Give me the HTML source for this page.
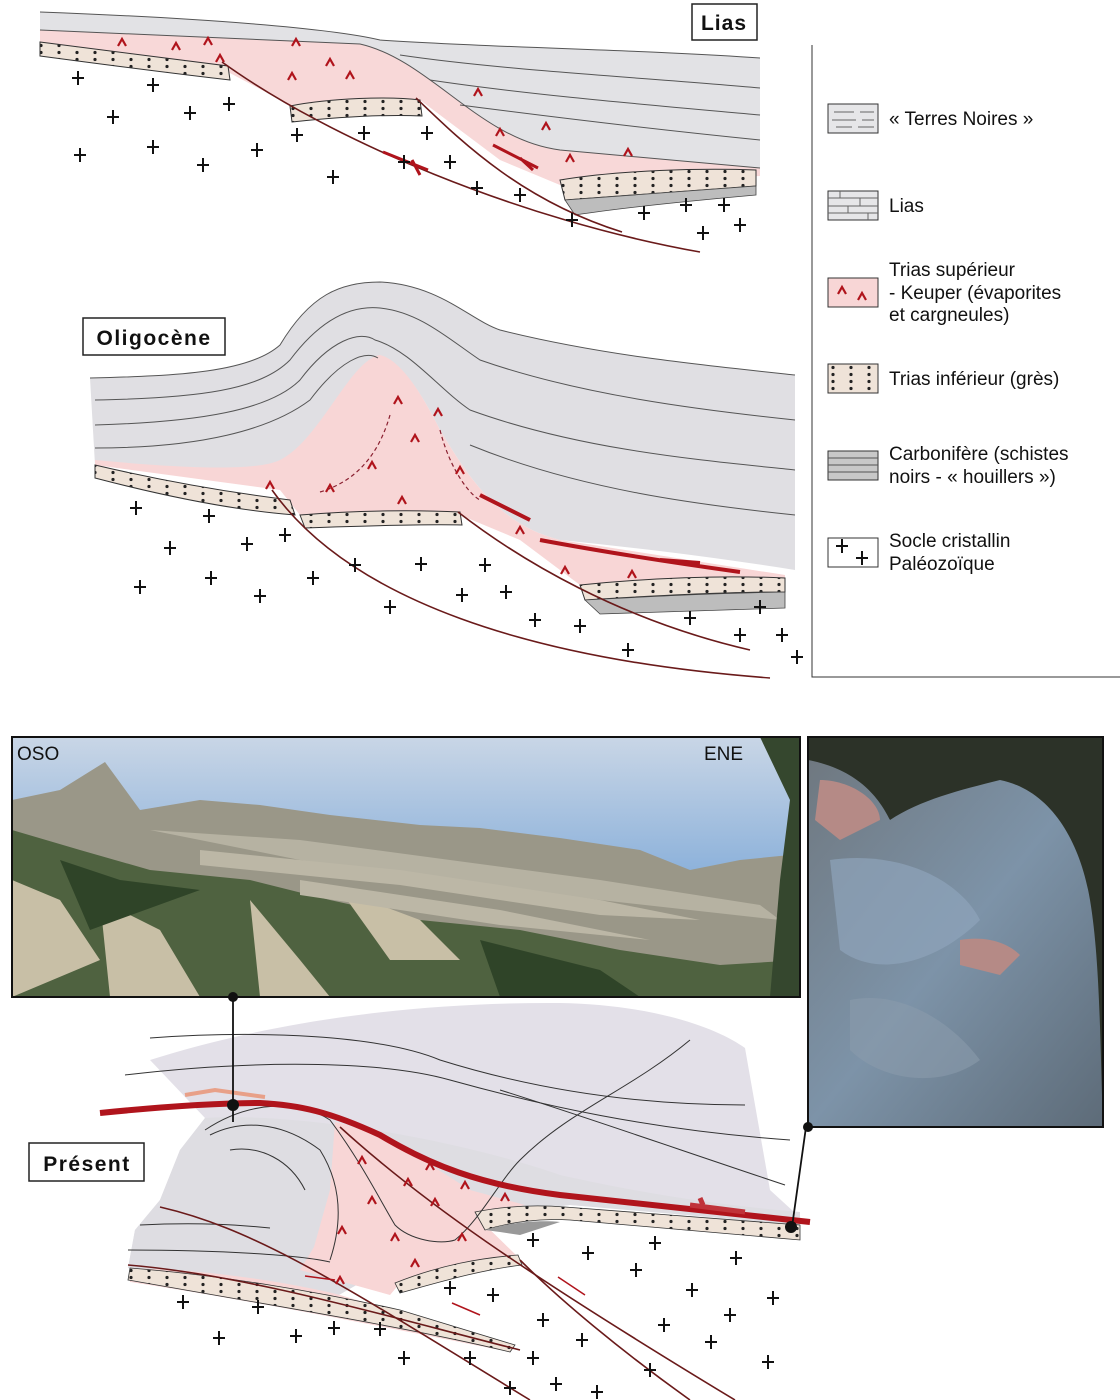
<!DOCTYPE html>
<html><head><meta charset="utf-8"><style>
html,body{margin:0;padding:0;background:#fff}
body{width:1120px;height:1400px;position:relative;overflow:hidden;font-family:"Liberation Sans",sans-serif}
</style></head><body>
<svg width="1120" height="1400" viewBox="0 0 1120 1400" xmlns="http://www.w3.org/2000/svg" style="position:absolute;left:0;top:0">
<defs>
<linearGradient id="sky" x1="0" y1="0" x2="0" y2="1"><stop offset="0" stop-color="#c9d6e6"/><stop offset="0.5" stop-color="#8fb3db"/><stop offset="1" stop-color="#5e8fc9"/></linearGradient>
<linearGradient id="rock" x1="0" y1="0" x2="1" y2="1"><stop offset="0" stop-color="#6f7880"/><stop offset="0.5" stop-color="#7d93a8"/><stop offset="1" stop-color="#5d6b78"/></linearGradient>
<pattern id="dots" width="18" height="7" patternUnits="userSpaceOnUse"><rect width="18" height="7" fill="#efe3d8"/><circle cx="5" cy="3.5" r="1.6" fill="#222"/></pattern>
<g id="cr"><path d="M-6 0h12M0-7v14" stroke="#111" stroke-width="2"/></g>
<g id="ev"><path d="M-4 4L0-3L4 4" fill="none" stroke="#b0141c" stroke-width="2.2"/></g>
</defs>

<!-- ========== LIAS ========== -->
<path d="M40,12 C200,18 330,28 380,40 C500,48 650,50 760,58 L760,170 C680,165 600,160 560,150 C480,140 430,60 360,44 L40,30 Z" fill="#e2e2e5"/>
<path d="M40,30 L360,44 C430,60 480,140 560,150 L760,168 L760,176 L560,185 L500,160 L420,100 L290,105 L228,72 L40,56 Z" fill="#f8d8d8"/>
<path d="M40,42 C120,52 180,60 228,66 L230,80 C160,72 100,64 40,56 Z" fill="url(#dots)" stroke="#333" stroke-width="1"/>
<path d="M290,106 C330,98 390,96 420,100 L422,116 C380,114 330,118 292,122 Z" fill="url(#dots)" stroke="#333" stroke-width="1"/>
<path d="M560,180 C620,170 700,168 756,170 L756,186 C700,190 620,196 565,200 Z" fill="url(#dots)" stroke="#333" stroke-width="1"/>
<path d="M565,200 C640,194 700,190 756,186 L756,195 C700,200 620,208 575,215 Z" fill="#bdbdbd" stroke="#444" stroke-width="0.8"/>
<g stroke="#555" stroke-width="1" fill="none">
<path d="M40,12 C200,18 330,28 380,40 C500,48 650,50 760,58"/>
<path d="M400,55 C500,70 650,78 760,88"/><path d="M430,80 C530,95 650,105 760,115"/><path d="M460,105 C560,118 660,130 760,140"/><path d="M40,30 L360,44 C430,60 480,140 560,150 L760,168"/>
</g>
<g stroke="#6a1a1a" stroke-width="1.6" fill="none">
<path d="M222,62 C330,140 520,220 700,252"/>
<path d="M416,98 C460,140 520,200 622,232"/>
</g>
<path d="M383,152 L428,170 M412,160 L420,175 M493,145 L538,168 M520,158 L533,170" stroke="#b0141c" stroke-width="3"/>
<g>
<use href="#ev" x="122" y="42"/><use href="#ev" x="176" y="46"/><use href="#ev" x="208" y="41"/><use href="#ev" x="296" y="42"/><use href="#ev" x="330" y="62"/><use href="#ev" x="350" y="75"/><use href="#ev" x="292" y="76"/><use href="#ev" x="478" y="92"/><use href="#ev" x="500" y="132"/><use href="#ev" x="546" y="126"/><use href="#ev" x="570" y="158"/><use href="#ev" x="628" y="152"/><use href="#ev" x="220" y="58"/>
</g>
<g>
<use href="#cr" x="78" y="78"/><use href="#cr" x="153" y="85"/><use href="#cr" x="113" y="117"/><use href="#cr" x="190" y="113"/><use href="#cr" x="229" y="104"/><use href="#cr" x="80" y="155"/><use href="#cr" x="153" y="147"/><use href="#cr" x="203" y="165"/><use href="#cr" x="257" y="150"/><use href="#cr" x="297" y="135"/><use href="#cr" x="364" y="133"/><use href="#cr" x="427" y="133"/><use href="#cr" x="333" y="177"/><use href="#cr" x="404" y="162"/><use href="#cr" x="450" y="162"/><use href="#cr" x="477" y="188"/><use href="#cr" x="520" y="195"/><use href="#cr" x="572" y="220"/><use href="#cr" x="644" y="213"/><use href="#cr" x="686" y="205"/><use href="#cr" x="724" y="205"/><use href="#cr" x="740" y="225"/><use href="#cr" x="703" y="233"/>
</g>
<rect x="692" y="4" width="65" height="36" fill="#fff" stroke="#222" stroke-width="1.5"/>
<text x="724" y="30" text-anchor="middle" font-size="21" font-weight="bold" fill="#111" letter-spacing="1">Lias</text>

<!-- ========== OLIGOCENE ========== -->
<path d="M90,378 C180,376 250,372 280,345 C310,295 340,282 380,282 C440,285 470,320 500,330 C600,355 700,365 795,375 L795,570 C720,558 640,548 560,540 C500,525 470,480 440,430 C420,390 400,360 380,360 C360,360 330,420 300,470 L95,465 Z" fill="#e0dfe3"/>
<path d="M380,355 C400,360 420,390 440,430 C470,480 500,525 560,540 C640,552 720,565 785,575 L785,585 L580,585 L520,540 L460,515 L300,515 L280,490 L95,465 L95,460 C200,470 260,470 280,460 C320,440 350,360 380,355 Z" fill="#f8d6d6"/>
<path d="M95,465 C180,485 250,495 290,500 L295,515 C230,510 160,495 95,478 Z" fill="url(#dots)" stroke="#333" stroke-width="1"/>
<path d="M300,515 C360,510 420,510 460,512 L462,525 C420,524 360,526 305,528 Z" fill="url(#dots)" stroke="#333" stroke-width="1"/>
<path d="M580,585 C650,578 720,575 785,578 L785,592 C720,592 650,596 585,600 Z" fill="url(#dots)" stroke="#333" stroke-width="1"/>
<path d="M585,600 C660,596 720,593 785,592 L785,608 C720,610 660,612 600,614 Z" fill="#bdbdbd" stroke="#444" stroke-width="0.8"/>
<g stroke="#555" stroke-width="1" fill="none">
<path d="M90,378 C180,376 250,372 280,345 C310,295 340,282 380,282 C440,285 470,320 500,330 C600,355 700,365 795,375"/>
<path d="M95,400 C200,398 260,390 290,360 C320,320 350,305 380,308 C420,312 450,340 480,360 C580,395 700,410 795,420"/>
<path d="M95,425 C200,422 270,410 300,380 C330,340 360,330 375,340 C410,350 440,390 470,410 C580,450 700,460 795,470"/>
<path d="M95,448 C200,448 270,430 310,400 C340,360 365,350 378,358"/>
<path d="M470,445 C580,490 700,505 795,515"/>
</g>
<g stroke="#6a1a1a" stroke-width="1.6" fill="none">
<path d="M272,490 C350,600 530,660 770,678"/>
<path d="M458,512 C520,560 620,620 750,650"/>
</g>
<path d="M480,495 L530,520 M540,540 C620,555 690,565 740,572 M660,560 L700,563" stroke="#b0141c" stroke-width="4" fill="none"/>
<path d="M320,492 C360,480 380,450 390,415 M440,430 C450,470 470,495 480,500" stroke="#8a2030" stroke-width="1.2" stroke-dasharray="4 3" fill="none"/>
<g>
<use href="#ev" x="398" y="400"/><use href="#ev" x="415" y="438"/><use href="#ev" x="438" y="412"/><use href="#ev" x="372" y="465"/><use href="#ev" x="330" y="488"/><use href="#ev" x="402" y="500"/><use href="#ev" x="460" y="470"/><use href="#ev" x="520" y="530"/><use href="#ev" x="565" y="570"/><use href="#ev" x="632" y="574"/><use href="#ev" x="270" y="485"/>
</g>
<g>
<use href="#cr" x="136" y="508"/><use href="#cr" x="209" y="516"/><use href="#cr" x="170" y="548"/><use href="#cr" x="247" y="544"/><use href="#cr" x="285" y="535"/><use href="#cr" x="140" y="587"/><use href="#cr" x="211" y="578"/><use href="#cr" x="260" y="596"/><use href="#cr" x="313" y="578"/><use href="#cr" x="355" y="565"/><use href="#cr" x="421" y="564"/><use href="#cr" x="485" y="565"/><use href="#cr" x="390" y="607"/><use href="#cr" x="462" y="595"/><use href="#cr" x="506" y="592"/><use href="#cr" x="535" y="620"/><use href="#cr" x="580" y="626"/><use href="#cr" x="628" y="650"/><use href="#cr" x="690" y="618"/><use href="#cr" x="740" y="635"/><use href="#cr" x="760" y="607"/><use href="#cr" x="782" y="635"/><use href="#cr" x="797" y="657"/>
</g>
<rect x="83" y="318" width="142" height="37" fill="#fff" stroke="#222" stroke-width="1.5"/>
<text x="154" y="345" text-anchor="middle" font-size="21" font-weight="bold" fill="#111" letter-spacing="1.5">Oligocène</text>

<!-- ========== LEGEND ========== -->
<path d="M812,45 V677 H1120" stroke="#333" stroke-width="1" fill="none"/>
<g stroke="#333" stroke-width="1">
<rect x="828" y="104" width="50" height="29" fill="#e6e6e8"/>
<path d="M834,112h20M860,112h14M832,120h24M862,120h12M836,127h16M858,127h16" stroke="#666"/>
<rect x="828" y="191" width="50" height="29" fill="#e6e6e8"/>
<path d="M828,198h50M828,206h50M828,213h50M840,191v7M860,198v8M848,206v7M868,213v7" stroke="#666"/>
<rect x="828" y="278" width="50" height="29" fill="#f8d6d6"/>
<rect x="828" y="364" width="50" height="29" fill="url(#dots)"/>
<rect x="828" y="451" width="50" height="29" fill="#c8c8c8"/>
<path d="M828,458h50M828,465h50M828,472h50" stroke="#555"/>
<rect x="828" y="538" width="50" height="29" fill="#fff"/>
</g>
<use href="#ev" x="842" y="290"/><use href="#ev" x="862" y="296"/>
<use href="#cr" x="842" y="546"/><use href="#cr" x="862" y="558"/>
<g font-size="19" fill="#111">
<text x="889" y="125">« Terres Noires »</text>
<text x="889" y="212">Lias</text>
<text x="889" y="276">Trias supérieur</text>
<text x="889" y="299">- Keuper (évaporites</text>
<text x="889" y="321">et cargneules)</text>
<text x="889" y="385">Trias inférieur (grès)</text>
<text x="889" y="460">Carbonifère (schistes</text>
<text x="889" y="483">noirs - « houillers »)</text>
<text x="889" y="547">Socle cristallin</text>
<text x="889" y="570">Paléozoïque</text>
</g>

<!-- ========== PHOTOS ========== -->
<rect x="12" y="737" width="788" height="260" fill="url(#sky)"/>
<path d="M12,800 L60,790 L105,762 L140,810 L200,800 L260,805 L330,815 L420,825 L480,828 L560,838 L640,850 L690,870 L740,860 L790,855 L800,997 L12,997 Z" fill="#9a9788"/>
<path d="M12,830 L80,850 L150,870 L250,880 L330,900 L420,920 L520,930 L620,950 L720,965 L800,960 L800,997 L12,997 Z" fill="#4f6240"/>
<path d="M12,880 L60,900 L100,960 L12,997 Z M100,900 L160,930 L200,997 L110,997 Z M340,890 L420,920 L460,960 L390,960 Z M250,900 L300,960 L330,997 L260,997 Z" fill="#c8bfa6"/>
<path d="M150,830 L300,840 L450,860 L600,880 L760,905 L780,920 L600,900 L450,880 L300,860 Z" fill="#b6b2a2"/>
<path d="M200,850 L400,870 L600,900 L700,920 L600,915 L400,885 L200,865 Z M300,880 L500,910 L650,940 L500,925 L300,895 Z" fill="#bcb7a6"/>
<path d="M60,860 L120,880 L200,890 L90,930 Z M480,940 L600,970 L640,997 L500,997 Z" fill="#2f4428"/>
<path d="M760,737 L800,737 L800,997 L770,997 L780,880 L790,800 Z" fill="#35472e"/>
<rect x="12" y="737" width="788" height="260" fill="none" stroke="#111" stroke-width="2"/>
<text x="17" y="760" font-size="19" fill="#111">OSO</text>
<text x="704" y="760" font-size="19" fill="#111">ENE</text>

<rect x="808" y="737" width="295" height="390" fill="#2c3228"/>
<path d="M808,760 C860,770 880,800 890,820 C920,800 960,790 1000,780 C1050,790 1080,840 1090,900 C1100,960 1100,1040 1103,1127 L808,1127 Z" fill="url(#rock)"/>
<path d="M960,940 C990,935 1010,945 1020,955 L1000,975 L960,965 Z M820,780 C850,780 880,800 880,820 L840,840 L815,820 Z" fill="#b58a86"/>
<path d="M830,860 C900,850 960,880 980,920 C940,960 880,980 840,950 Z" fill="#8ea4ba" opacity="0.7"/>
<path d="M850,1000 C900,990 950,1020 980,1060 C940,1090 880,1080 850,1050 Z" fill="#8b9bab" opacity="0.6"/>
<rect x="808" y="737" width="295" height="390" fill="none" stroke="#111" stroke-width="2"/>

<!-- ========== PRESENT ========== -->
<path d="M150,1060 C260,1025 400,1002 560,1003 C660,1005 720,1030 745,1048 L770,1190 L805,1222 L570,1205 L480,1215 L330,1300 L128,1268 L135,1230 L160,1200 L180,1150 L205,1118 Z" fill="#e3e0e8"/>
<path d="M205,1118 C300,1112 460,1140 560,1175 C650,1195 720,1205 800,1212 L800,1225 L570,1205 L480,1215 L330,1300 L128,1268 L135,1230 L160,1200 L180,1150 Z" fill="#dedde2"/>
<path d="M335,1122 C380,1132 420,1158 470,1190 L525,1205 L475,1215 L518,1257 L400,1283 L390,1295 L300,1270 L314,1247 L330,1190 Z" fill="#f8d6d6"/>
<path d="M130,1268 C220,1270 300,1285 340,1295 L510,1345 L500,1350 C400,1330 250,1300 130,1282 Z" fill="#f8d6d6"/>
<path d="M130,1268 C220,1275 320,1292 400,1310 L515,1345 L510,1352 C420,1330 300,1310 128,1280 Z" fill="url(#dots)" stroke="#333" stroke-width="0.8"/>
<path d="M395,1283 C440,1265 480,1258 518,1255 L522,1265 C480,1270 440,1282 400,1293 Z" fill="url(#dots)" stroke="#333" stroke-width="0.8"/>
<path d="M475,1212 C510,1205 540,1205 565,1207 L800,1225 L800,1240 L570,1220 C540,1218 510,1222 485,1230 Z" fill="url(#dots)" stroke="#333" stroke-width="0.8"/>
<path d="M485,1230 C510,1222 540,1220 560,1222 L520,1235 L500,1232 Z" fill="#999"/>
<g stroke="#333" stroke-width="1" fill="none">
<path d="M150,1038 C260,1030 380,1035 440,1060 C520,1085 620,1105 745,1105"/>
<path d="M125,1075 C250,1060 380,1060 450,1080 C540,1105 650,1130 790,1140"/>
<path d="M500,1090 C580,1115 680,1150 785,1185"/>
<path d="M205,1130 C250,1100 300,1100 330,1120 C360,1160 380,1200 395,1225 C410,1240 440,1245 455,1240 C480,1220 500,1180 520,1160 C570,1110 630,1090 690,1040"/>
<path d="M210,1135 C240,1120 280,1120 320,1150 C345,1190 340,1230 330,1260"/>
<path d="M230,1150 C260,1145 290,1160 305,1190"/>
<path d="M128,1250 C220,1250 300,1255 330,1262"/>
<path d="M140,1225 C200,1222 240,1225 270,1228"/>
</g>
<path d="M100,1113 C160,1107 220,1103 260,1103 C300,1105 330,1112 380,1135 C430,1165 480,1185 560,1195 C650,1205 740,1215 810,1222" stroke="#b0141c" stroke-width="6" fill="none"/>
<path d="M185,1095 L215,1090 L265,1097" stroke="#e8a088" stroke-width="4" fill="none"/>
<path d="M690,1205 L745,1212 M700,1198 L703,1205" stroke="#c0333a" stroke-width="5" fill="none"/>
<g stroke="#6a1a1a" stroke-width="1.6" fill="none">
<path d="M160,1207 C260,1230 350,1290 530,1400"/>
<path d="M340,1127 C420,1200 520,1270 735,1400"/>
<path d="M520,1260 C560,1300 620,1350 690,1400"/>
<path d="M128,1265 C250,1275 400,1320 520,1350"/>
</g>
<g>
<use href="#ev" x="362" y="1160"/><use href="#ev" x="430" y="1166"/><use href="#ev" x="408" y="1182"/><use href="#ev" x="465" y="1185"/><use href="#ev" x="372" y="1200"/><use href="#ev" x="435" y="1202"/><use href="#ev" x="342" y="1230"/><use href="#ev" x="395" y="1237"/><use href="#ev" x="462" y="1237"/><use href="#ev" x="415" y="1263"/><use href="#ev" x="505" y="1197"/><use href="#ev" x="340" y="1280"/>
</g>
<g>
<use href="#cr" x="183" y="1302"/><use href="#cr" x="258" y="1307"/><use href="#cr" x="219" y="1338"/><use href="#cr" x="296" y="1336"/><use href="#cr" x="334" y="1328"/><use href="#cr" x="380" y="1329"/><use href="#cr" x="404" y="1358"/><use href="#cr" x="470" y="1358"/><use href="#cr" x="533" y="1358"/><use href="#cr" x="510" y="1388"/><use href="#cr" x="556" y="1384"/><use href="#cr" x="597" y="1392"/><use href="#cr" x="450" y="1288"/><use href="#cr" x="493" y="1295"/><use href="#cr" x="543" y="1320"/><use href="#cr" x="582" y="1340"/><use href="#cr" x="533" y="1240"/><use href="#cr" x="588" y="1253"/><use href="#cr" x="655" y="1243"/><use href="#cr" x="736" y="1258"/><use href="#cr" x="636" y="1270"/><use href="#cr" x="692" y="1290"/><use href="#cr" x="773" y="1298"/><use href="#cr" x="664" y="1325"/><use href="#cr" x="730" y="1315"/><use href="#cr" x="711" y="1342"/><use href="#cr" x="650" y="1370"/><use href="#cr" x="768" y="1362"/>
</g>
<path d="M558,1277 L585,1295 M452,1303 L480,1315 M305,1276 L335,1280" stroke="#b0141c" stroke-width="1.5"/>
<!-- connectors -->
<path d="M233,997 V1122 M806,1127 L792,1227" stroke="#111" stroke-width="1.8"/>
<circle cx="233" cy="997" r="5" fill="#111"/><circle cx="233" cy="1105" r="6" fill="#111"/>
<circle cx="808" cy="1127" r="5" fill="#111"/><circle cx="791" cy="1227" r="6" fill="#111"/>
<rect x="29" y="1143" width="115" height="38" fill="#fff" stroke="#222" stroke-width="1.5"/>
<text x="87" y="1171" text-anchor="middle" font-size="21" font-weight="bold" fill="#111" letter-spacing="1.5">Présent</text>
</svg>
</body></html>
